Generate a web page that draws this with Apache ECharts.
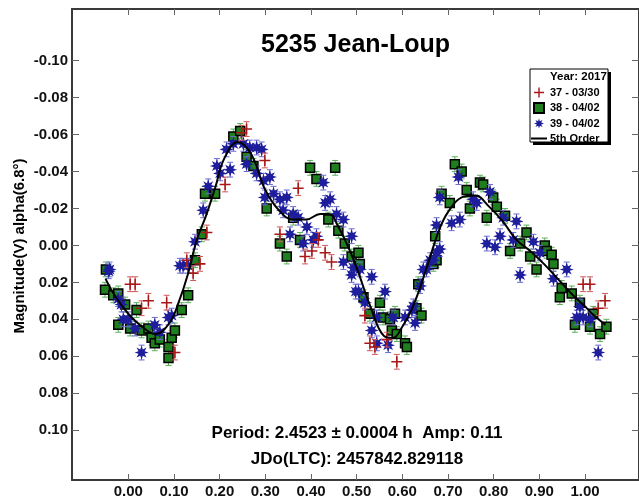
<!DOCTYPE html>
<html><head><meta charset="utf-8">
<style>html,body{margin:0;padding:0;background:#fff}#c{width:639px;height:500px}</style>
<script src="https://cdn.jsdelivr.net/npm/echarts@6/dist/echarts.min.js"></script>
</head><body><div id="c"></div>
<script>
// ---- data ----
const xTicks = [0.00, 0.10, 0.20, 0.30, 0.40, 0.50, 0.60, 0.70, 0.80, 0.90, 1.00];
const yTicks = [-0.10, -0.08, -0.06, -0.04, -0.02, 0.00, 0.02, 0.04, 0.06, 0.08, 0.10];

const seriesNames = ['37 - 03/30', '38 - 04/02', '39 - 04/02', '5th Order'];
const titleText = '5235 Jean-Loup';
const periodText = 'Period: 2.4523 \u00b1 0.0004 h  Amp: 0.11';
const jdText = 'JDo(LTC): 2457842.829118';
const yName = 'Magnitude(V) alpha(6.8\u00b0)';
const legendTitle = 'Year: 2017';

const phase37 = [0.004, 0.015, 0.029, 0.044, 0.084, 0.102, 0.128, 0.142, 0.157, 0.172, 0.212, 0.248, 0.259, 0.299, 0.332, 0.372, 0.387, 0.402, 0.416, 0.431, 0.445, 0.518, 0.529, 0.540, 0.566, 0.588, 0.996, 1.011, 1.029, 1.044];
const mag37   = [0.021, 0.021, 0.034, 0.030, 0.031, 0.058, 0.008, 0.015, 0.010, -0.007, -0.033, -0.061, -0.063, -0.046, -0.006, -0.031, 0.006, 0.003, -0.003, 0.004, 0.009, 0.038, 0.053, 0.055, 0.051, 0.063, 0.021, 0.021, 0.034, 0.030];
const err37 = 0.004;

const phase38 = [-0.051, -0.049, -0.033, -0.022, -0.022, -0.007, 0.004, 0.018, 0.029, 0.044, 0.051, 0.058, 0.069, 0.088, 0.088, 0.095, 0.102, 0.117, 0.131, 0.146, 0.161, 0.168, 0.190, 0.230, 0.245, 0.259, 0.274, 0.303, 0.332, 0.347, 0.361, 0.376, 0.398, 0.412, 0.438, 0.453, 0.460, 0.474, 0.489, 0.504, 0.507, 0.515, 0.529, 0.551, 0.558, 0.573, 0.577, 0.584, 0.588, 0.606, 0.610, 0.631, 0.635, 0.642, 0.668, 0.672, 0.675, 0.686, 0.704, 0.715, 0.730, 0.741, 0.748, 0.770, 0.777, 0.785, 0.799, 0.807, 0.825, 0.836, 0.858, 0.872, 0.880, 0.894, 0.912, 0.916, 0.927, 0.931, 0.945, 0.949, 0.971, 0.978, 0.989, 1.011, 1.018, 1.033, 1.047];
const mag38   = [0.024, 0.013, 0.027, 0.026, 0.043, 0.032, 0.045, 0.035, 0.046, 0.045, 0.050, 0.053, 0.051, 0.055, 0.061, 0.050, 0.046, 0.035, 0.027, 0.008, -0.006, -0.028, -0.028, -0.059, -0.062, -0.048, -0.043, -0.020, -0.001, 0.006, -0.015, -0.003, -0.042, -0.036, -0.014, -0.042, -0.008, -0.001, 0.006, 0.004, 0.010, 0.028, 0.037, 0.031, 0.039, 0.040, 0.046, 0.037, 0.048, 0.053, 0.055, 0.034, 0.021, 0.038, 0.010, -0.005, 0.008, -0.028, -0.023, -0.044, -0.040, -0.030, -0.020, -0.034, -0.033, -0.015, -0.026, -0.021, -0.016, 0.003, -0.001, -0.007, 0.006, 0.013, 0.000, 0.003, 0.005, 0.010, 0.028, 0.023, 0.026, 0.043, 0.031, 0.044, 0.037, 0.048, 0.044];
const err38 = 0.004;

const phase39 = [-0.043, -0.041, -0.022, -0.015, -0.011, 0.000, 0.015, 0.029, 0.058, 0.069, 0.088, 0.095, 0.113, 0.120, 0.131, 0.146, 0.164, 0.175, 0.194, 0.201, 0.215, 0.223, 0.230, 0.252, 0.259, 0.266, 0.281, 0.281, 0.292, 0.296, 0.299, 0.310, 0.318, 0.332, 0.339, 0.347, 0.354, 0.361, 0.372, 0.383, 0.391, 0.405, 0.412, 0.427, 0.431, 0.442, 0.456, 0.471, 0.471, 0.489, 0.489, 0.493, 0.498, 0.504, 0.507, 0.518, 0.533, 0.533, 0.544, 0.544, 0.562, 0.569, 0.580, 0.606, 0.621, 0.624, 0.628, 0.639, 0.646, 0.653, 0.661, 0.668, 0.675, 0.675, 0.682, 0.682, 0.708, 0.723, 0.726, 0.755, 0.763, 0.785, 0.792, 0.803, 0.814, 0.821, 0.843, 0.850, 0.858, 0.887, 0.901, 0.931, 0.960, 0.982, 0.989, 0.996, 1.011, 1.029];
const mag39   = [0.014, 0.013, 0.029, 0.032, 0.040, 0.040, 0.045, 0.058, 0.043, 0.047, 0.039, 0.038, 0.011, 0.011, 0.011, -0.002, -0.019, -0.032, -0.043, -0.039, -0.052, -0.041, -0.055, -0.055, -0.044, -0.053, -0.053, -0.039, -0.052, -0.035, -0.026, -0.037, -0.028, -0.025, -0.019, -0.026, -0.006, -0.017, -0.015, -0.001, -0.010, -0.003, -0.005, -0.034, -0.023, -0.025, -0.017, -0.014, 0.009, -0.005, 0.016, 0.012, 0.025, 0.025, 0.013, 0.031, 0.017, 0.046, 0.039, 0.053, 0.025, 0.054, 0.039, 0.039, 0.035, 0.033, 0.042, 0.022, 0.013, 0.013, 0.008, 0.008, 0.004, -0.011, -0.026, 0.002, -0.012, -0.037, -0.014, -0.025, -0.023, -0.001, -0.029, 0.001, -0.005, -0.015, -0.003, -0.013, 0.016, -0.002, 0.004, 0.018, 0.013, 0.039, 0.033, 0.039, 0.040, 0.058];
const err39 = 0.004;

const fitPhase = [-0.05, -0.03, 0.00, 0.03, 0.06, 0.09, 0.11, 0.13, 0.15, 0.17, 0.19, 0.21, 0.24, 0.27, 0.30, 0.33, 0.36, 0.39, 0.42, 0.44, 0.46, 0.48, 0.50, 0.53, 0.56, 0.58, 0.60, 0.62, 0.64, 0.66, 0.68, 0.70, 0.73, 0.76, 0.79, 0.82, 0.85, 0.88, 0.91, 0.94, 0.97, 1.00, 1.02, 1.045];
const fitMag   = [0.018, 0.027, 0.037, 0.044, 0.048, 0.042, 0.031, 0.016, -0.003, -0.016, -0.031, -0.047, -0.056, -0.049, -0.030, -0.019, -0.014, -0.014, -0.017, -0.017, -0.010, 0.000, 0.012, 0.033, 0.049, 0.050, 0.044, 0.035, 0.022, 0.007, -0.008, -0.018, -0.026, -0.027, -0.021, -0.013, -0.003, 0.003, 0.010, 0.018, 0.026, 0.033, 0.038, 0.043];

// ---- styling helpers ----
const FONT = 'Liberation Sans, Arial, sans-serif';
const pairs = (xs, ys) => xs.map((x, i) => [x, ys[i]]);
function starPath(n, rIn) {
  let d = '';
  for (let i = 0; i < 2 * n; i++) {
    const r = i % 2 ? rIn : 1;
    const a = Math.PI * i / n - Math.PI / 2;
    d += (i ? 'L' : 'M') + (r * Math.cos(a)).toFixed(3) + ',' + (r * Math.sin(a)).toFixed(3);
  }
  return 'path://' + d + 'Z';
}
const PLUS = 'path://M-0.14,-1L0.14,-1L0.14,-0.14L1,-0.14L1,0.14L0.14,0.14L0.14,1L-0.14,1L-0.14,0.14L-1,0.14L-1,-0.14L-0.14,-0.14Z';
const SQUARE = 'path://M0,0L1,0L1,1L0,1Z';
const STAR = starPath(8, 0.48);
const LINEICON = 'path://M0,0L16,0L16,2L0,2Z';

const RED = '#a81818', GREEN = '#1f7f1f', BLUE = '#1e1e9c';

function errSeries(data, err, color, z) {
  return {
    type: 'custom', data, z, silent: true, clip: true,
    encode: { x: 0, y: 1 },
    renderItem(params, api) {
      const x = api.value(0), y = api.value(1);
      const a = api.coord([x, y - err]), b = api.coord([x, y + err]);
      const c = 3, st = { stroke: color, lineWidth: 1 };
      return { type: 'group', children: [
        { type: 'line', shape: { x1: a[0], y1: a[1], x2: b[0], y2: b[1] }, style: st },
        { type: 'line', shape: { x1: a[0] - c, y1: a[1], x2: a[0] + c, y2: a[1] }, style: st },
        { type: 'line', shape: { x1: b[0] - c, y1: b[1], x2: b[0] + c, y2: b[1] }, style: st }
      ]};
    }
  };
}

const XMIN = -0.1233, XMAX = 1.1183, YMIN = -0.128, YMAX = 0.127;
const axisLineStyle = { color: '#3a3a3a', width: 2 };
const tickStyle = { color: '#666', width: 1 };
const labelStyle = { fontSize: 15, fontWeight: 'bold', color: '#111', fontFamily: FONT };

function xAx(pos, labels) {
  return {
    type: 'value', min: XMIN, max: XMAX, position: pos,
    axisLine: { show: true, onZero: false, lineStyle: axisLineStyle },
    axisTick: { show: true, inside: true, length: 6, customValues: xTicks, lineStyle: tickStyle },
    axisLabel: Object.assign({ show: labels, customValues: xTicks, margin: 4, formatter: v => v.toFixed(2) }, labelStyle),
    splitLine: { show: false }
  };
}
function yAx(pos, labels) {
  return {
    type: 'value', min: YMIN, max: YMAX, inverse: true, position: pos,
    axisLine: { show: true, onZero: false, lineStyle: axisLineStyle },
    axisTick: { show: true, inside: true, length: 7, customValues: yTicks, lineStyle: tickStyle },
    axisLabel: Object.assign({ show: labels, customValues: yTicks, margin: 4, formatter: v => v.toFixed(2) }, labelStyle),
    splitLine: { show: false }
  };
}

const chart = echarts.init(document.getElementById('c'), null, { renderer: 'canvas' });
chart.setOption({
  animation: false,
  backgroundColor: '#fff',
  grid: { left: 72, top: 9, width: 567, height: 471, containLabel: false },
  xAxis: [xAx('bottom', true), xAx('top', false)],
  yAxis: [yAx('left', true), yAx('right', false)],
  legend: {
    left: 531, top: 87, orient: 'vertical', padding: 0, z: 50,
    itemWidth: 16, itemHeight: 10, itemGap: 4, selectedMode: false,
    textStyle: { fontSize: 11, fontWeight: 'bold', color: '#000', fontFamily: FONT, padding: [0, 0, 0, -2] },
    data: [
      { name: seriesNames[0], icon: PLUS },
      { name: seriesNames[1], icon: SQUARE },
      { name: seriesNames[2], icon: STAR },
      { name: seriesNames[3], icon: LINEICON }
    ]
  },
  graphic: [
    { type: 'rect', shape: { x: 533, y: 72, width: 78, height: 73 }, style: { fill: '#000' }, z: 10 },
    { type: 'rect', shape: { x: 530, y: 69, width: 78, height: 73 }, style: { fill: '#fff', stroke: '#000', lineWidth: 1 }, z: 11 },
    { type: 'text', x: 550, y: 77, z: 12, style: { text: legendTitle, fontSize: 11.5, fontWeight: 'bold', fill: '#000', fontFamily: FONT, textAlign: 'left', textVerticalAlign: 'middle' } },
    { type: 'text', x: 355.5, y: 45, z: 12, style: { text: titleText, fontSize: 25, fontWeight: 'bold', fill: '#000', fontFamily: FONT, textAlign: 'center', textVerticalAlign: 'middle' } },
    { type: 'text', x: 357, y: 433, z: 12, style: { text: periodText, fontSize: 17, fontWeight: 'bold', fill: '#000', fontFamily: FONT, textAlign: 'center', textVerticalAlign: 'middle' } },
    { type: 'text', x: 357, y: 459, z: 12, style: { text: jdText, fontSize: 17, fontWeight: 'bold', fill: '#000', fontFamily: FONT, textAlign: 'center', textVerticalAlign: 'middle' } },
    { type: 'text', x: 20, y: 246, rotation: Math.PI / 2, z: 12, style: { text: yName, fontSize: 15, fontWeight: 'bold', fill: '#000', fontFamily: FONT, textAlign: 'center', textVerticalAlign: 'middle' } }
  ],
  series: [
    errSeries(pairs(phase38, mag38), err38, '#5cb05c', 2),
    { name: seriesNames[1], type: 'scatter', data: pairs(phase38, mag38), symbol: 'rect', symbolSize: 9, z: 3,
      itemStyle: { color: GREEN, borderColor: '#000', borderWidth: 1.5, opacity: 1 } },
    errSeries(pairs(phase39, mag39), err39, '#6a6ad2', 4),
    { name: seriesNames[2], type: 'scatter', data: pairs(phase39, mag39), symbol: STAR, symbolSize: 14, z: 5,
      itemStyle: { color: BLUE, opacity: 1 } },
    errSeries(pairs(phase37, mag37), err37, '#d05a5a', 6),
    { name: seriesNames[0], type: 'scatter', data: pairs(phase37, mag37), symbol: PLUS, symbolSize: 11, z: 7,
      itemStyle: { color: RED, opacity: 1 } },
    { name: seriesNames[3], type: 'line', data: pairs(fitPhase, fitMag), smooth: 0.4, symbol: 'none', z: 8,
      lineStyle: { color: '#000', width: 2 }, itemStyle: { color: '#000' } }
  ]
});
</script>
</body></html>
